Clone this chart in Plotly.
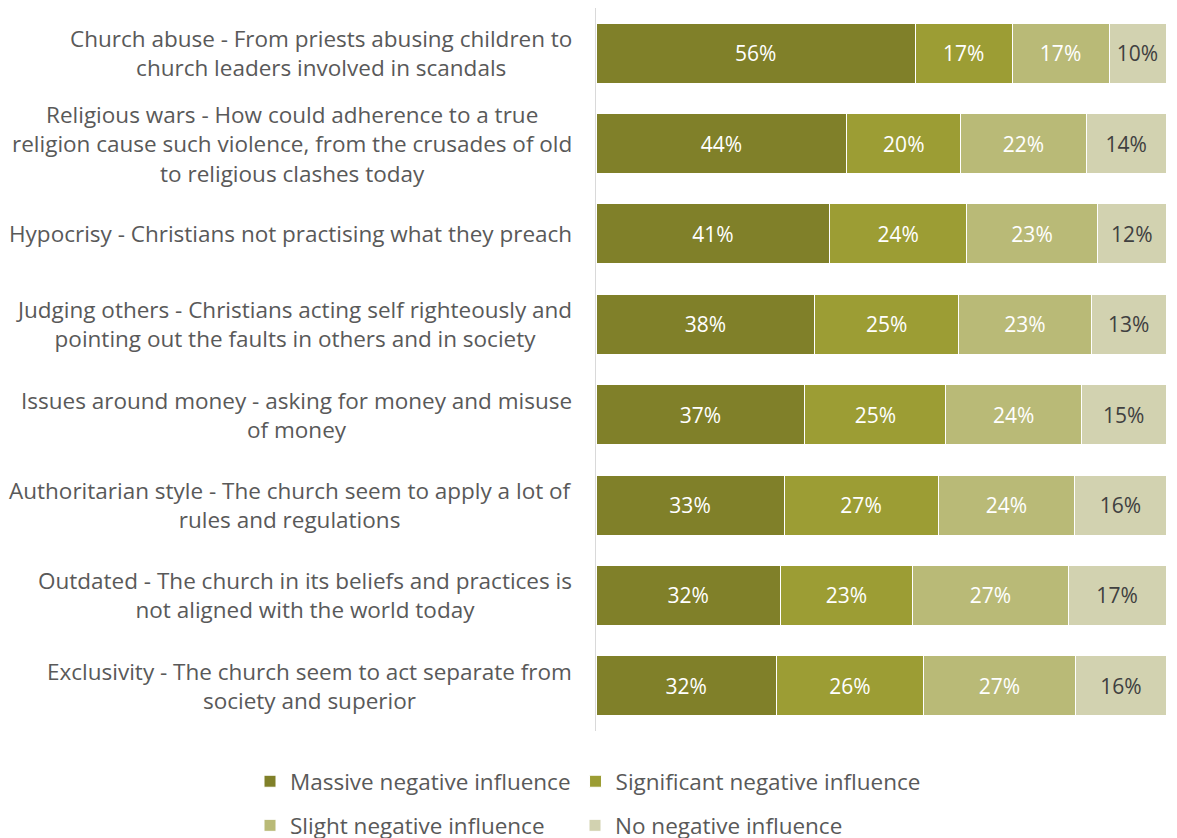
import plotly.graph_objects as go

categories = [
    "Church abuse - From priests abusing children to<br>church leaders involved in scandals",
    "Religious wars - How could adherence to a true<br>religion cause such violence, from the crusades of old<br>to religious clashes today",
    "Hypocrisy - Christians not practising what they preach",
    "Judging others - Christians acting self righteously and<br>pointing out the faults in others and in society",
    "Issues around money - asking for money and misuse<br>of money",
    "Authoritarian style - The church seem to apply a lot of<br>rules and regulations",
    "Outdated - The church in its beliefs and practices is<br>not aligned with the world today",
    "Exclusivity - The church seem to act separate from<br>society and superior",
]

massive = [56, 44, 41, 38, 37, 33, 32, 32]
significant = [17, 20, 24, 25, 25, 27, 23, 26]
slight = [17, 22, 23, 23, 24, 24, 27, 27]
no_negative = [10, 14, 12, 13, 15, 16, 17, 16]

series = [
    ("Massive negative influence", massive, "#808029", "#ffffff", "legend"),
    ("Significant negative influence", significant, "#9c9d34", "#ffffff", "legend"),
    ("Slight negative influence", slight, "#b9ba77", "#ffffff", "legend2"),
    ("No negative influence", no_negative, "#d2d2b0", "#404040", "legend2"),
]

FONT = "'Open Sans', sans-serif"
LABEL_GREY = "#595959"

fig = go.Figure()
for name, vals, color, txtcolor, leg in series:
    fig.add_trace(go.Bar(
        y=categories,
        x=vals,
        name=name,
        orientation="h",
        marker=dict(color=color, line=dict(color="#ffffff", width=1)),
        text=[f"{v}%" for v in vals],
        textposition="inside",
        insidetextanchor="middle",
        textangle=0,
        textfont=dict(color=txtcolor, size=21, family=FONT),
        legend=leg,
        hoverinfo="skip",
    ))

# Category labels as centred multi-line text blocks to the left of the bars
for cat in categories:
    fig.add_annotation(
        x=0, xref="paper", y=cat, yref="y",
        text=cat, showarrow=False,
        xanchor="right", yanchor="middle", align="center",
        xshift=-22,
        font=dict(size=22.5, color=LABEL_GREY, family=FONT),
    )

legend_common = dict(
    orientation="h",
    xanchor="left",
    yanchor="middle",
    font=dict(size=22.5, color=LABEL_GREY, family=FONT),
    itemwidth=30,
    bgcolor="rgba(0,0,0,0)",
    traceorder="normal",
)

fig.update_layout(
    width=1177,
    height=838,
    barmode="stack",
    barnorm="percent",
    bargap=0.335,
    plot_bgcolor="#ffffff",
    paper_bgcolor="#ffffff",
    margin=dict(l=596, r=11, t=8, b=107, autoexpand=False),
    font=dict(family=FONT, color=LABEL_GREY, size=20),
    xaxis=dict(range=[0, 100], visible=False, showgrid=False, zeroline=False),
    yaxis=dict(
        autorange="reversed",
        showticklabels=False,
        showgrid=False,
        zeroline=False,
        showline=True,
        linecolor="#d9d9d9",
        linewidth=1,
        ticks="",
    ),
    legend=dict(x=-0.607, y=-0.07, **legend_common),
    legend2=dict(x=-0.607, y=-0.131, entrywidth=280, entrywidthmode="pixels",
                 **legend_common),
    showlegend=True,
)

fig.write_html("out.html")
